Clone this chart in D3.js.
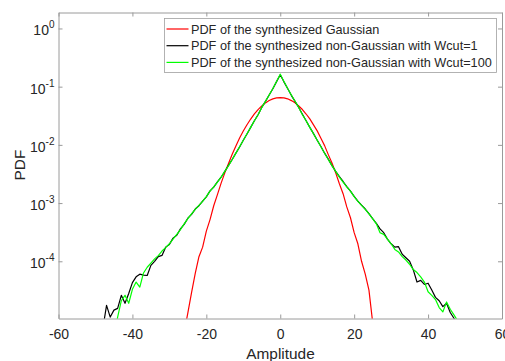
<!DOCTYPE html>
<html>
<head>
<meta charset="utf-8">
<script src="https://cdn.jsdelivr.net/npm/d3@7"></script>
<style>
    body { margin: 0; background: #fff; }
    text { font-family: "Liberation Sans", Arial, sans-serif; fill: #262626; }
</style>
</head>
<body>
<div id="chart"></div>
<script>
// amplitude grid of the three histograms
const ampGauss = [-26, -25, -24, -23, -22, -21, -20, -19, -18, -17, -16, -15, -14, -13, -12, -11, -10, -9, -8, -7, -6, -5, -4, -3, -2, -1,
    0, 1, 2, 3, 4, 5, 6, 7, 8, 9, 10, 11, 12, 13, 14, 15, 16, 17, 18, 19, 20, 21, 22, 23, 24, 25, 26];
const pdfGauss = [6e-6, 1.3e-5, 2.9e-5, 6.2e-5, 1.2e-4, 1.75e-4, 3.3e-4, 5.2e-4, 9.0e-4, 1.4e-3, 2.2e-3, 3.3e-3, 4.8e-3, 6.9e-3, 9.6e-3, 1.31e-2, 1.73e-2, 2.22e-2, 2.78e-2, 3.4e-2, 4.04e-2, 4.67e-2, 5.26e-2, 5.77e-2, 6.17e-2, 6.41e-2,
    6.5e-2, 6.41e-2, 6.18e-2, 5.76e-2, 5.27e-2, 4.66e-2, 4.05e-2, 3.39e-2, 2.79e-2, 2.21e-2, 1.74e-2, 1.3e-2, 9.7e-3, 6.8e-3, 4.9e-3, 3.3e-3, 2.15e-3, 1.45e-3, 8.6e-4, 5.6e-4, 3.1e-4, 2.0e-4, 1.0e-4, 6.0e-5, 3.2e-5, 9e-6, 5e-6];

const ampCut1 = [-48, -47, -46, -45, -44, -43, -42, -41, -40, -39, -38, -37, -36, -35, -34, -33, -32, -31, -30, -29, -28, -27, -26, -25, -24, -23, -22, -21, -20, -19, -18, -17, -16, -15, -14, -13, -12, -11, -10, -9, -8, -7, -6, -5, -4, -3, -2, -1,
    0, 1, 2, 3, 4, 5, 6, 7, 8, 9, 10, 11, 12, 13, 14, 15, 16, 17, 18, 19, 20, 21, 22, 23, 24, 25, 26, 27, 28, 29, 30, 31, 32, 33, 34, 35, 36, 37, 38, 39, 40, 41, 42, 43, 44, 45, 46, 47, 48];
const pdfCut1 = [7e-6, 1.75e-5, 1.1e-5, 1.45e-5, 1.55e-5, 2.6e-5, 1.9e-5, 2.8e-5, 4.3e-5, 5.4e-5, 6.0e-5, 5.8e-5, 5.7e-5, 8.5e-5, 1.0e-4, 1.2e-4, 1.26e-4, 1.75e-4, 1.95e-4, 2.5e-4, 2.8e-4, 3.6e-4, 4.3e-4, 5.5e-4, 6.4e-4, 7.9e-4, 9.0e-4, 1.08e-3, 1.28e-3, 1.62e-3, 1.88e-3, 2.32e-3, 2.78e-3, 3.5e-3, 4.45e-3, 5.6e-3, 7.2e-3, 9.2e-3, 1.2e-2, 1.54e-2, 2.0e-2, 2.6e-2, 3.3e-2, 4.4e-2, 5.6e-2, 7.2e-2, 9.2e-2, 1.22e-1,
    1.6e-1, 1.21e-1, 9.3e-2, 7.1e-2, 5.6e-2, 4.4e-2, 3.35e-2, 2.6e-2, 2.0e-2, 1.56e-2, 1.2e-2, 9.4e-3, 7.2e-3, 5.7e-3, 4.4e-3, 3.5e-3, 2.85e-3, 2.35e-3, 1.92e-3, 1.6e-3, 1.3e-3, 1.08e-3, 9.2e-4, 7.9e-4, 6.6e-4, 5.4e-4, 4.5e-4, 3.6e-4, 3.1e-4, 2.4e-4, 2.0e-4, 1.75e-4, 1.78e-4, 1.32e-4, 1.15e-4, 1.0e-4, 7.1e-5, 4.4e-5, 4.7e-5, 4.0e-5, 4.2e-5, 3.2e-5, 2.4e-5, 2.1e-5, 1.66e-5, 1.9e-5, 1.32e-5, 1.05e-5, 8e-6];

const ampCut100 = [-45, -44, -43, -42, -41, -40, -39, -38, -37, -36, -35, -34, -33, -32, -31, -30, -29, -28, -27, -26, -25, -24, -23, -22, -21, -20, -19, -18, -17, -16, -15, -14, -13, -12, -11, -10, -9, -8, -7, -6, -5, -4, -3, -2, -1,
    0, 1, 2, 3, 4, 5, 6, 7, 8, 9, 10, 11, 12, 13, 14, 15, 16, 17, 18, 19, 20, 21, 22, 23, 24, 25, 26, 27, 28, 29, 30, 31, 32, 33, 34, 35, 36, 37, 38, 39, 40, 41, 42, 43, 44, 45, 46, 47, 48];
const pdfCut100 = [5e-6, 1.1e-5, 2.1e-5, 2.6e-5, 1.9e-5, 3.3e-5, 4.4e-5, 3.6e-5, 6.3e-5, 7.9e-5, 9.3e-5, 1.1e-4, 1.25e-4, 1.5e-4, 1.72e-4, 2.0e-4, 2.4e-4, 2.9e-4, 3.5e-4, 4.4e-4, 5.4e-4, 6.5e-4, 7.8e-4, 9.1e-4, 1.07e-3, 1.29e-3, 1.6e-3, 1.9e-3, 2.3e-3, 2.8e-3, 3.5e-3, 4.4e-3, 5.6e-3, 7.2e-3, 9.3e-3, 1.2e-2, 1.55e-2, 2.0e-2, 2.6e-2, 3.3e-2, 4.4e-2, 5.6e-2, 7.2e-2, 9.3e-2, 1.23e-1,
    1.64e-1, 1.23e-1, 9.3e-2, 7.2e-2, 5.6e-2, 4.4e-2, 3.3e-2, 2.6e-2, 2.0e-2, 1.55e-2, 1.2e-2, 9.3e-3, 7.2e-3, 5.6e-3, 4.4e-3, 3.5e-3, 2.8e-3, 2.3e-3, 1.9e-3, 1.6e-3, 1.29e-3, 1.07e-3, 9.1e-4, 7.8e-4, 6.5e-4, 5.4e-4, 4.4e-4, 3.1e-4, 2.9e-4, 2.4e-4, 2.0e-4, 1.6e-4, 1.45e-4, 1.2e-4, 1.05e-4, 8.9e-5, 7.2e-5, 6.4e-5, 5.4e-5, 4.4e-5, 3.0e-5, 2.6e-5, 2.2e-5, 1.6e-5, 1.35e-5, 2.0e-5, 1.5e-5, 1.2e-5, 9.5e-6];

const xTicks = [-60, -40, -20, 0, 20, 40, 60];
const yTicks = [1, 1e-1, 1e-2, 1e-3, 1e-4];
const yTickExp = ["0", "-1", "-2", "-3", "-4"];

const seriesNames = [
    "PDF of the synthesized Gaussian",
    "PDF of the synthesized non-Gaussian with Wcut=1",
    "PDF of the synthesized non-Gaussian with Wcut=100"
];
const seriesColors = ["#ff0000", "#000000", "#00ff00"];

const width = 505, height = 361;
const margin = { top: 12.5, right: 3, bottom: 42.5, left: 58.5 };
const innerW = width - margin.left - margin.right;
const innerH = height - margin.top - margin.bottom;

let svg = d3.select("#chart").append("svg")
    .attr("width", width)
    .attr("height", height)
;

let g = svg.append("g")
    .attr("transform", `translate(${margin.left},${margin.top})`)
;

let x = d3.scaleLinear().domain([-60, 60]).range([0, innerW]);
let y = d3.scaleLog().domain([1.04e-5, 1.88]).range([innerH, 0]);

g.append("clipPath").attr("id", "clip")
    .append("rect")
    .attr("width", innerW)
    .attr("height", innerH)
;

let axisColor = "#9a9a9a";

// bottom axis with labels (plain hyphen like matlab)
let xAxis = g.append("g")
    .attr("transform", `translate(0,${innerH})`)
    .call(d3.axisBottom(x).tickValues(xTicks).tickSize(-4).tickSizeOuter(0).tickPadding(10.8).tickFormat(d => String(d)))
;
xAxis.selectAll("text").style("font-size", "14px").attr("fill", "#262626");

g.append("g")
    .call(d3.axisTop(x).tickValues(xTicks).tickSize(-4).tickSizeOuter(0).tickFormat(""))
;

let yAxis = g.append("g")
    .call(d3.axisLeft(y).tickValues(yTicks).tickSize(-4).tickSizeOuter(0).tickFormat(""))
;
yAxis.selectAll(".tick").each(function(d, i) {
    let t = d3.select(this).append("text")
        .attr("x", -4)
        .attr("y", 6.5)
        .attr("text-anchor", "end")
        .attr("fill", "#262626")
    ;
    t.append("tspan").style("font-size", "14px").text("10");
    t.append("tspan").style("font-size", "10px").attr("dy", -7).text(yTickExp[i]);
});

g.append("g")
    .attr("transform", `translate(${innerW},0)`)
    .call(d3.axisRight(y).tickValues(yTicks).tickSize(-4).tickSizeOuter(0).tickFormat(""))
;

g.selectAll(".domain, .tick line")
    .attr("stroke", axisColor)
    .attr("stroke-width", 1)
;

let line = d3.line()
    .x(d => x(d[0]))
    .y(d => y(d[1]))
;

let series = [
    d3.zip(ampGauss, pdfGauss),
    d3.zip(ampCut1, pdfCut1),
    d3.zip(ampCut100, pdfCut100)
];

g.append("g")
    .attr("clip-path", "url(#clip)")
    .selectAll("path")
    .data(series)
    .enter()
    .append("path")
    .attr("d", line)
    .attr("fill", "none")
    .attr("stroke", (d, i) => seriesColors[i])
    .attr("stroke-width", 1.2)
    .attr("stroke-linejoin", "round")
;

// legend
let legend = svg.append("g").attr("transform", "translate(164.5,18.5)");
legend.append("rect")
    .attr("width", 332)
    .attr("height", 54)
    .attr("fill", "#fff")
    .attr("stroke", "#a0a0a0")
    .attr("stroke-width", 0.8)
;
let rows = legend.selectAll(".row")
    .data(seriesNames)
    .enter()
    .append("g")
    .attr("transform", (d, i) => `translate(0,${10.5 + i * 16.7})`)
;
rows.append("line")
    .attr("x1", 2)
    .attr("x2", 24)
    .attr("stroke", (d, i) => seriesColors[i])
    .attr("stroke-width", 1.2)
;
rows.append("text")
    .attr("x", 26.5)
    .attr("y", 4.5)
    .style("font-size", "12.7px")
    .text(d => d)
;

// axis titles
svg.append("text")
    .attr("x", 280.5)
    .attr("y", 358.5)
    .attr("text-anchor", "middle")
    .style("font-size", "15.4px")
    .text("Amplitude")
;
svg.append("text")
    .attr("transform", "translate(24.5,165) rotate(-90)")
    .attr("text-anchor", "middle")
    .style("font-size", "15.4px")
    .text("PDF")
;
</script>
</body>
</html>
